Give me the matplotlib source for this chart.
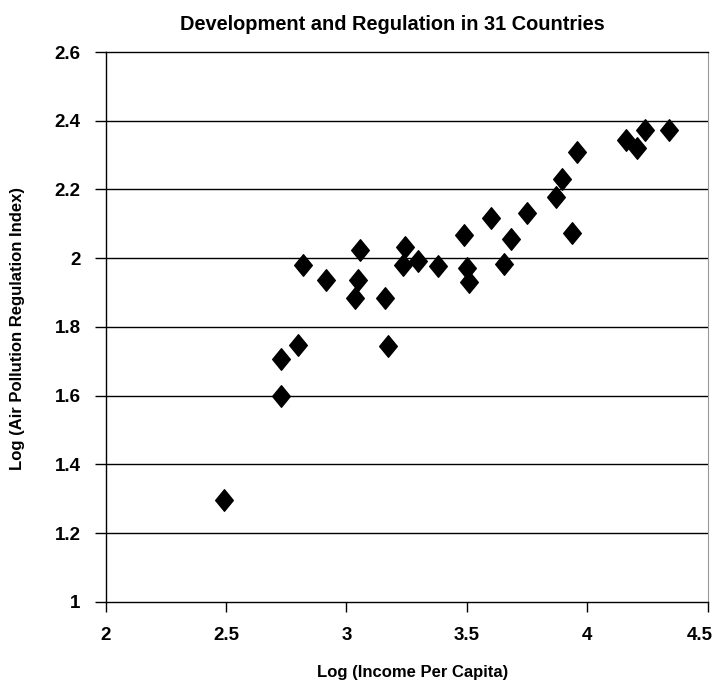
import numpy as np
import matplotlib
matplotlib.use("Agg")
import matplotlib.pyplot as plt
import matplotlib.transforms as mtransforms
from matplotlib.path import Path

# --- DONNEES ---
log_income = [2.49, 2.726, 2.726, 2.80, 2.82, 2.913, 3.057, 3.046, 3.037, 3.161,
              3.172, 3.244, 3.233, 3.298, 3.38, 3.50, 3.51, 3.488, 3.601, 3.682,
              3.653, 3.748, 3.87, 3.896, 3.938, 3.959, 4.159, 4.207, 4.241, 4.338]
log_regulation = [1.296, 1.60, 1.707, 1.748, 1.979, 1.935, 2.025, 1.936, 1.883, 1.885,
                  1.743, 2.033, 1.979, 1.991, 1.977, 1.972, 1.930, 2.066, 2.116, 2.057,
                  1.982, 2.132, 2.179, 2.231, 2.073, 2.310, 2.343, 2.322, 2.372, 2.373]

x_ticks = [2, 2.5, 3, 3.5, 4, 4.5]
x_tick_labels = ["2", "2.5", "3", "3.5", "4", "4.5"]
y_ticks = [1, 1.2, 1.4, 1.6, 1.8, 2, 2.2, 2.4, 2.6]
y_tick_labels = ["1", "1.2", "1.4", "1.6", "1.8", "2", "2.2", "2.4", "2.6"]

FONT = ["Liberation Sans", "DejaVu Sans"]
plt.rcParams["font.family"] = FONT

# losange un peu plus haut que large
diamond = Path([(0, 1), (0.82, 0), (0, -1), (-0.82, 0), (0, 1)],
               [Path.MOVETO, Path.LINETO, Path.LINETO, Path.LINETO, Path.CLOSEPOLY])

fig = plt.figure(figsize=(7.17, 6.81), dpi=100)
ax = fig.add_axes([0.1474, 0.1164, 0.987 - 0.1474, 0.9236 - 0.1164])

ax.set_xlim(2, 4.5)
ax.set_ylim(1, 2.6)

for y in y_ticks[1:-1]:
    ax.axhline(y, color="black", linewidth=1.0, zorder=1)

ax.plot(log_income, log_regulation, linestyle="none", marker=diamond,
        markersize=15.5, color="black", zorder=5)

ax.set_xticks(x_ticks)
ax.set_xticklabels(x_tick_labels)
ax.set_yticks(y_ticks)
ax.set_yticklabels(y_tick_labels)
ax.tick_params(axis="x", direction="out", length=7, width=1, pad=11, labelsize=13.5)
ax.tick_params(axis="y", direction="out", length=8, width=1, pad=10, labelsize=13.5)
for lab in ax.get_xticklabels() + ax.get_yticklabels():
    lab.set_fontweight("bold")

# le dernier label "4.5" est un peu décalé à gauche (comme sur l'original)
last = ax.get_xticklabels()[-1]
last.set_transform(last.get_transform() +
                   mtransforms.ScaledTranslation(-6 / 72, 0, fig.dpi_scale_trans))

for side in ["left", "bottom", "top"]:
    ax.spines[side].set_color("black")
    ax.spines[side].set_linewidth(1.0)
ax.spines["right"].set_color("#999999")
ax.spines["right"].set_linewidth(0.8)

fig.text(392 / 717, 1 - 25 / 681, "Development and Regulation in 31 Countries",
         ha="center", va="center", fontsize=14.4, fontweight="bold")
fig.text(413 / 717, 1 - 672 / 681, "Log (Income Per Capita)",
         ha="center", va="center", fontsize=12, fontweight="bold")
fig.text(18 / 717, 1 - 328 / 681, "Log (Air Pollution Regulation Index)",
         ha="center", va="center", rotation=90, fontsize=12, fontweight="bold")

fig.savefig("out.png", dpi=100)
